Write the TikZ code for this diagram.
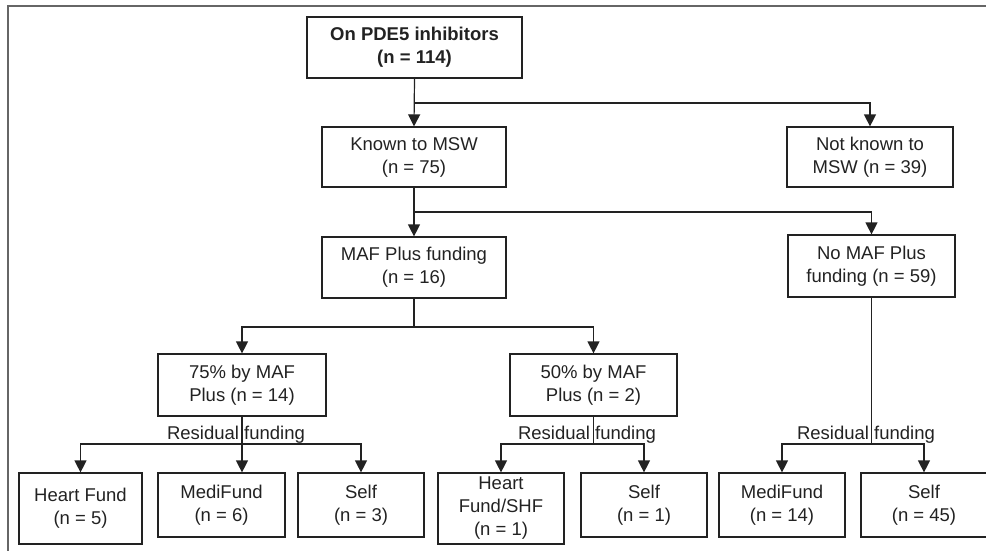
\documentclass[tikz,border=0pt]{standalone}
\usepackage{fontspec}
\setmainfont{Liberation Sans}
\usetikzlibrary{arrows.meta}
\definecolor{ln}{HTML}{222222}
\definecolor{fr}{HTML}{666666}
\tikzset{
  box/.style={draw=ln, line width=1.2pt, align=center, inner sep=0pt, text=ln,
    font=\fontsize{18.5}{23}\selectfont},
  conn/.style={draw=ln, line width=1.2pt},
  arr/.style={conn, -{Triangle[length=12pt,width=12pt]}},
  lbl/.style={anchor=base, inner sep=0pt, text=ln, font=\fontsize{18.5}{23}\selectfont}
}
\begin{document}
\begin{tikzpicture}[x=1pt,y=-1pt]
\useasboundingbox (0,0) rectangle (986,551);
\clip (0,0) rectangle (986,551);
\draw[fr, line width=2pt] (7.5,552) -- (7.5,6.5) -- (987,6.5);

\node[box, minimum width=215, minimum height=61] (top) at (414.5,47.5) {\textbf{On PDE5 inhibitors}\\\textbf{(n = 114)}};
\node[box, minimum width=184, minimum height=60] (known) at (414,157) {Known to MSW\\(n = 75)};
\node[box, minimum width=166, minimum height=60] (notknown) at (870,157) {Not known to\\MSW (n = 39)};
\node[box, minimum width=184, minimum height=61] (maf) at (414,267.5) {MAF Plus funding\\(n = 16)};
\node[box, minimum width=167, minimum height=62] (nomaf) at (871.5,266) {No MAF Plus\\funding (n = 59)};
\node[box, minimum width=168, minimum height=62] (p75) at (242,385) {75\% by MAF\\Plus (n = 14)};
\node[box, minimum width=167, minimum height=62] (p50) at (593.5,385) {50\% by MAF\\Plus (n = 2)};
\node[box, minimum width=123, minimum height=71] (hf) at (80.5,508.5) {Heart Fund\\(n = 5)};
\node[box, minimum width=127, minimum height=64] (mf1) at (221.5,505) {MediFund\\(n = 6)};
\node[box, minimum width=126, minimum height=64] (self1) at (361,505) {Self\\(n = 3)};
\node[box, minimum width=126, minimum height=71] (hfshf) at (501,508.5) {Heart\\Fund/SHF\\(n = 1)};
\node[box, minimum width=126, minimum height=64] (self2) at (644,505) {Self\\(n = 1)};
\node[box, minimum width=126, minimum height=64] (mf2) at (782,505) {MediFund\\(n = 14)};
\node[box, minimum width=126, minimum height=64] (self3) at (924,505) {Self\\(n = 45)};

\coordinate (j1) at (414.5,103);
\coordinate (j2) at (414,212);
\coordinate (j3) at (414,327);
\coordinate (j4) at (242,444);
\coordinate (j5) at (593.5,444);
\coordinate (j6) at (871.5,444);

\draw[arr] (top.south) -- (known.north);
\draw[arr] (j1) -| (notknown.north);
\draw[arr] (known.south) -- (maf.north);
\draw[arr] (j2) -| (nomaf.north);
\draw[conn] (maf.south) -- (j3);
\draw[arr] (j3) -| (p75.north);
\draw[arr] (j3) -| (p50.north);

\draw[conn] (p75.south) -- (j4);
\draw[arr] (j4) -| (hf.north);
\draw[arr] (j4) -- (j4 |- mf1.north);
\draw[arr] (j4) -| (self1.north);

\draw[conn] (p50.south) -- (j5);
\draw[arr] (j5) -| (hfshf.north);
\draw[arr] (j5) -| (self2.north);

\draw[conn] (nomaf.south) -- (j6);
\draw[arr] (j6) -| (mf2.north);
\draw[arr] (j6) -| (self3.north);

\node[lbl] (r1) at (236,439.5) {Residual funding};
\node[lbl] (r2) at (587,439.5) {Residual funding};
\node[lbl] (r3) at (866,439.5) {Residual funding};
\end{tikzpicture}
\end{document}
